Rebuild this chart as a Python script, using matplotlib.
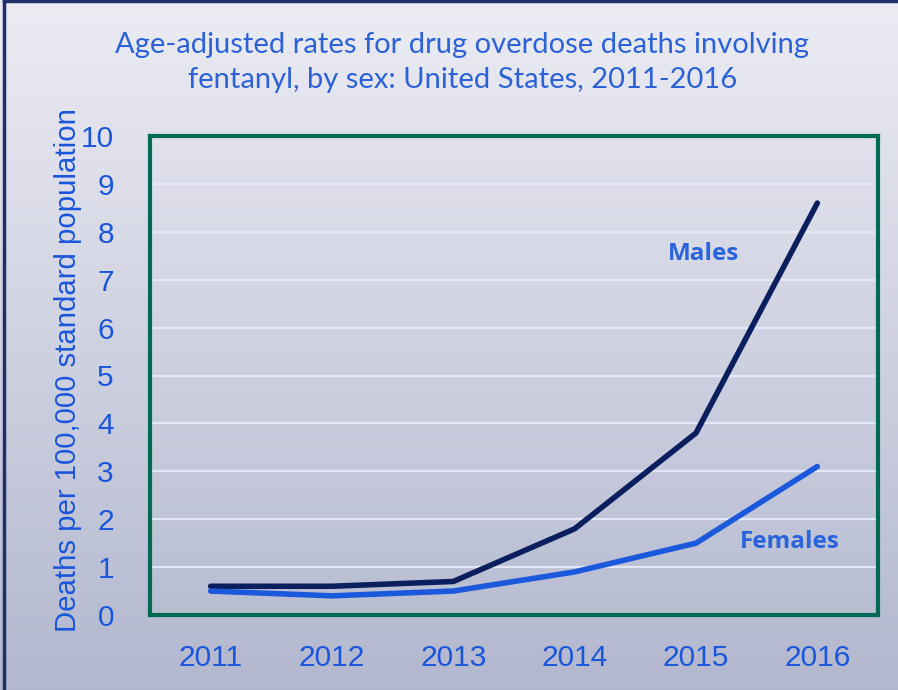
import matplotlib
matplotlib.use("Agg")
import matplotlib.pyplot as plt
import numpy as np

years = ["2011", "2012", "2013", "2014", "2015", "2016"]
males = [0.6, 0.6, 0.7, 1.8, 3.8, 8.6]
females = [0.5, 0.4, 0.5, 0.9, 1.5, 3.1]
yticks = [0, 1, 2, 3, 4, 5, 6, 7, 8, 9, 10]

W, H = 898, 690
fig = plt.figure(figsize=(W / 100, H / 100), dpi=100)

# gradient background
bg = fig.add_axes([0, 0, 1, 1], zorder=-10)
top = np.array([0.925, 0.925, 0.955])
bot = np.array([0.70, 0.72, 0.81])
t = np.linspace(0, 1, 256)[:, None]
grad = top[None, :] * (1 - t) + bot[None, :] * t
bg.imshow(grad[:, None, :], aspect="auto", extent=[0, 1, 0, 1], origin="upper")
bg.set_xlim(0, 1); bg.set_ylim(0, 1)
bg.axis("off")
bg.plot([0.004, 0.004], [0, 0.998], color="#1f2f6a", lw=2.5)
bg.plot([0.004, 1], [0.998, 0.998], color="#1f2f6a", lw=2.5)

left, right, topp, bottom = 150, 878, 136, 615
ax = fig.add_axes([left / W, 1 - bottom / H, (right - left) / W, (bottom - topp) / H])
ax.patch.set_alpha(0)

x = np.arange(len(years))
ax.plot(x, males, color="#0b1f5e", lw=4, solid_capstyle="round", zorder=3)
ax.plot(x, females, color="#1a58dc", lw=4, solid_capstyle="round", zorder=3)

ax.set_xlim(-0.5, len(years) - 0.5)
ax.set_ylim(0, 10)
ax.set_yticks(yticks)
ax.set_yticklabels([str(v) for v in yticks])
ax.set_xticks(x)
ax.set_xticklabels(years)
ax.grid(axis="y", color="#e2e8f8", lw=1.6)
ax.set_axisbelow(True)
ax.tick_params(length=0, labelsize=21.5, labelcolor="#1a56db")
ax.tick_params(axis="y", pad=26)
ax.tick_params(axis="x", pad=21)
for lab in ax.get_xticklabels() + ax.get_yticklabels():
    lab.set_fontfamily("Liberation Sans")
for s in ax.spines.values():
    s.set_color("#006a55")
    s.set_linewidth(3)

ax.set_ylabel("Deaths per 100,000 standard population", fontsize=21.2,
              color="#1a56db", family="Liberation Sans")
ax.yaxis.set_label_coords(-0.094, 0.511)

ax.text(4.06, 7.54, "Males", fontsize=17.5, fontweight="bold", color="#2a64dc",
        family="Open Sans", ha="center", va="center")
ax.text(4.77, 1.52, "Females", fontsize=17.5, fontweight="bold", color="#2a64dc",
        family="Open Sans", ha="center", va="center")

fig.text(0.515, 0.935, "Age-adjusted rates for drug overdose deaths involving",
         fontsize=21, color="#2c62d8", family="Lato", ha="center", va="center")
fig.text(0.515, 0.884, "fentanyl, by sex: United States, 2011-2016",
         fontsize=21, color="#2c62d8", family="Lato", ha="center", va="center")

fig.savefig("out.png", dpi=100)
